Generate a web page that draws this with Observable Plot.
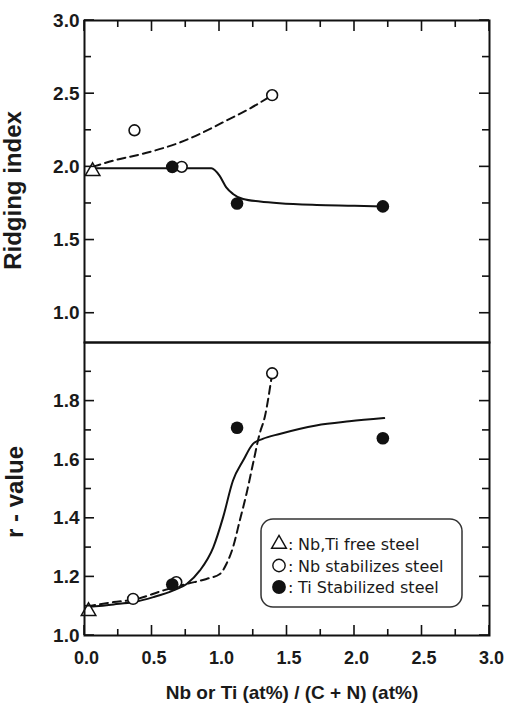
<!DOCTYPE html>
<html>
<head>
<meta charset="utf-8">
<script src="https://cdn.jsdelivr.net/npm/d3@7"></script>
<script src="https://cdn.jsdelivr.net/npm/@observablehq/plot@0.6"></script>
<style>
  body { margin: 0; background: #fff; }
  #chart { position: relative; width: 511px; height: 715px; }
  #chart > svg.panel { display: block; overflow: visible; }
  #legend { position: absolute; left: 258px; top: 516px; overflow: visible; pointer-events: none; }
</style>
</head>
<body>
<div id="chart"></div>
<script>
// ---------- tick values ----------
const xMajorTicks = [0, 0.5, 1.0, 1.5, 2.0, 2.5, 3.0];
const xMinorTicks = [0.25, 0.75, 1.25, 1.75, 2.25, 2.75];
const ridgingMajorTicks = [1.0, 1.5, 2.0, 2.5, 3.0];
const ridgingMinorTicks = [1.25, 1.75, 2.25, 2.75];
const rMajorTicks = [1.0, 1.2, 1.4, 1.6, 1.8];
const rMinorTicks = [1.1, 1.3, 1.5, 1.7, 1.9];

// ---------- labels ----------
const legendLabels = ["Nb,Ti free steel", "Nb stabilizes steel", "Ti Stabilized steel"];
const xTitle = "Nb or Ti (at%) / (C + N) (at%)";
const ridgingTitle = "Ridging index";
const rTitle = "r - value";

// ---------- Ridging index (top panel) ----------
const ridgeFreeX = [0.06];
const ridgeFreeY = [1.97];
const ridgeNbX = [0.37, 0.72, 1.39];
const ridgeNbY = [2.25, 2.00, 2.49];
const ridgeTiX = [0.65, 1.13, 2.21];
const ridgeTiY = [2.00, 1.75, 1.73];
// fitted curves
const ridgeNbCurveX = [0.06, 0.216, 0.46, 0.71, 0.954, 1.05, 1.22, 1.39];
const ridgeNbCurveY = [2.00, 2.043, 2.096, 2.168, 2.27, 2.316, 2.396, 2.49];
const ridgeTiCurveX = [0.06, 0.30, 0.60, 0.94, 1.00, 1.05, 1.10, 1.175, 1.30, 1.445, 1.72, 2.00, 2.21];
const ridgeTiCurveY = [1.99, 1.99, 1.99, 1.99, 1.94, 1.86, 1.815, 1.78, 1.763, 1.751, 1.74, 1.735, 1.73];

// ---------- r-value (bottom panel) ----------
const rFreeX = [0.03];
const rFreeY = [1.083];
const rNbX = [0.36, 0.68, 1.39];
const rNbY = [1.125, 1.182, 1.895];
const rTiX = [0.65, 1.13, 2.21];
const rTiY = [1.174, 1.709, 1.673];
const rTiCurveX = [0.02, 0.216, 0.364, 0.51, 0.659, 0.757, 0.855, 0.954, 1.027, 1.10, 1.175, 1.248, 1.32, 1.445, 1.716, 1.962, 2.22];
const rTiCurveY = [1.097, 1.106, 1.114, 1.131, 1.154, 1.176, 1.222, 1.301, 1.404, 1.529, 1.597, 1.654, 1.671, 1.688, 1.717, 1.731, 1.742];
const rNbCurveX = [0.02, 0.216, 0.364, 0.585, 0.757, 0.904, 1.003, 1.052, 1.10, 1.15, 1.20, 1.248, 1.297, 1.335, 1.39];
const rNbCurveY = [1.099, 1.114, 1.122, 1.154, 1.176, 1.193, 1.21, 1.245, 1.301, 1.392, 1.484, 1.586, 1.688, 1.745, 1.895];

const zip = (xs, ys) => xs.map((x, i) => ({x, y: ys[i]}));
const INK = "#111";
const TEXT = "#1a1a1a";
const FONT = "'Liberation Sans', Arial, sans-serif";
const W = 511, ML = 84, MR = 22;

function labelMarks(yMajor, withBottom) {
  const m = [
    Plot.frame({stroke: INK, strokeWidth: 2}),
    Plot.axisY(yMajor, {anchor: "left", tickSize: 0, tickPadding: 5, tickFormat: d3.format(".1f"), label: null,
      fontSize: 19, fontWeight: "bold", fill: TEXT})
  ];
  if (withBottom) {
    m.push(Plot.axisX(xMajorTicks, {anchor: "bottom", tickSize: 0, tickPadding: 16, dx: 2, tickFormat: d3.format(".1f"),
      label: null, fontSize: 18, fontWeight: "bold", fill: TEXT}));
  }
  return m;
}

function seriesMarks(freeX, freeY, nbX, nbY, tiX, tiY, nbCX, nbCY, tiCX, tiCY) {
  return [
    Plot.line(zip(nbCX, nbCY), {x: "x", y: "y", stroke: INK, strokeWidth: 2, strokeDasharray: "8,5", curve: "monotone-x"}),
    Plot.line(zip(tiCX, tiCY), {x: "x", y: "y", stroke: INK, strokeWidth: 2, curve: "monotone-x"}),
    Plot.dot(zip(freeX, freeY), {x: "x", y: "y", symbol: "triangle", r: 5.4, stroke: INK, strokeWidth: 1.5, fill: "white"}),
    Plot.dot(zip(nbX, nbY), {x: "x", y: "y", r: 5.4, stroke: INK, strokeWidth: 1.6, fill: "white"}),
    Plot.dot(zip(tiX, tiY), {x: "x", y: "y", r: 6.3, fill: INK})
  ];
}

// inward ticks on the frame, positioned with the plot's own x and y scales
function addInwardTicks(plot, yMajor, yMinor, withTop, withBottom) {
  const sx = plot.scale("x"), sy = plot.scale("y");
  const [xl, xr] = sx.range;
  const [yb, yt] = sy.range;
  const g = d3.select(plot).append("g").attr("class", "inward-ticks")
    .attr("stroke", INK).attr("stroke-width", 1.6).attr("fill", "none");
  const yTick = (v, size) => {
    const y = sy.apply(v);
    g.append("line").attr("x1", xl).attr("x2", xl + size).attr("y1", y).attr("y2", y);
    g.append("line").attr("x1", xr - size).attr("x2", xr).attr("y1", y).attr("y2", y);
  };
  yMajor.forEach(v => yTick(v, 10));
  yMinor.forEach(v => yTick(v, 7));
  const xTick = (v, size, atTop) => {
    const x = sx.apply(v);
    const y0 = atTop ? yt : yb;
    g.append("line").attr("x1", x).attr("x2", x).attr("y1", y0).attr("y2", atTop ? y0 + size : y0 - size);
  };
  if (withTop) { xMajorTicks.forEach(v => xTick(v, 11, true)); xMinorTicks.forEach(v => xTick(v, 7, true)); }
  if (withBottom) { xMajorTicks.forEach(v => xTick(v, 10, false)); xMinorTicks.forEach(v => xTick(v, 6, false)); }
}

const TOP_H = 342, TOP_MT = 20;
const topPlot = Plot.plot({
  className: "panel",
  width: W, height: TOP_H,
  marginLeft: ML, marginRight: MR, marginTop: TOP_MT, marginBottom: 0,
  x: {domain: [0, 3], axis: null},
  y: {domain: [0.8, 3.0]},
  style: {fontFamily: FONT, overflow: "visible"},
  marks: [
    ...seriesMarks(ridgeFreeX, ridgeFreeY, ridgeNbX, ridgeNbY, ridgeTiX, ridgeTiY,
                   ridgeNbCurveX, ridgeNbCurveY, ridgeTiCurveX, ridgeTiCurveY),
    ...labelMarks(ridgingMajorTicks, false),
    Plot.text([ridgingTitle], {text: d => d, frameAnchor: "left", rotate: -90, dx: -71, dy: 9,
      fontSize: 24, fontWeight: "bold", fill: TEXT, textAnchor: "middle", lineAnchor: "middle"})
  ]
});

const BOT_H = 373, BOT_MB = 80;
const bottomPlot = Plot.plot({
  className: "panel",
  width: W, height: BOT_H,
  marginLeft: ML, marginRight: MR, marginTop: 0, marginBottom: BOT_MB,
  x: {domain: [0, 3]},
  y: {domain: [1.0, 2.0]},
  style: {fontFamily: FONT, overflow: "visible"},
  marks: [
    ...seriesMarks(rFreeX, rFreeY, rNbX, rNbY, rTiX, rTiY,
                   rNbCurveX, rNbCurveY, rTiCurveX, rTiCurveY),
    ...labelMarks(rMajorTicks, true),
    Plot.text([rTitle], {text: d => d, frameAnchor: "left", rotate: -90, dx: -69, dy: 3,
      fontSize: 24, fontWeight: "bold", fill: TEXT, textAnchor: "middle", lineAnchor: "middle"}),
    Plot.text([xTitle], {text: d => d, frameAnchor: "bottom", dy: 57, dx: 5,
      fontSize: 19, fontWeight: "bold", fill: TEXT, lineAnchor: "middle"})
  ]
});

addInwardTicks(topPlot, ridgingMajorTicks, ridgingMinorTicks, true, false);
addInwardTicks(bottomPlot, rMajorTicks, rMinorTicks, false, true);

const chartEl = document.getElementById("chart");
chartEl.appendChild(topPlot);
chartEl.appendChild(bottomPlot);

// ---------- legend box (inside the lower panel) ----------
const LX = 258, LY = 516;
const lg = d3.select(chartEl).append("svg").attr("id", "legend").attr("width", 208).attr("height", 95);
lg.append("rect").attr("x", 261 - LX).attr("y", 519 - LY).attr("width", 201).attr("height", 88).attr("rx", 12)
  .attr("fill", "white").attr("stroke", "#333").attr("stroke-width", 1.5);
const legendSymbols = [
  {type: d3.symbolTriangle, size: 95, fill: "white"},
  {type: d3.symbolCircle, size: 120, fill: "white"},
  {type: d3.symbolCircle, size: 150, fill: INK}
];
legendLabels.forEach((label, i) => {
  const base = 550 - LY + i * 21.5;
  const s = legendSymbols[i];
  lg.append("path").attr("d", d3.symbol(s.type, s.size)())
    .attr("transform", `translate(${279 - LX},${base - 6})`)
    .attr("fill", s.fill).attr("stroke", INK).attr("stroke-width", i === 2 ? 0 : 1.4);
  lg.append("text").attr("x", 288 - LX).attr("y", base).text(":")
    .attr("font-family", "'DejaVu Sans', sans-serif").attr("font-size", 16).attr("fill", TEXT);
  lg.append("text").attr("x", 298 - LX).attr("y", base).text(label)
    .attr("font-family", "'DejaVu Sans', sans-serif").attr("font-size", 16).attr("fill", TEXT);
});
</script>
</body>
</html>
